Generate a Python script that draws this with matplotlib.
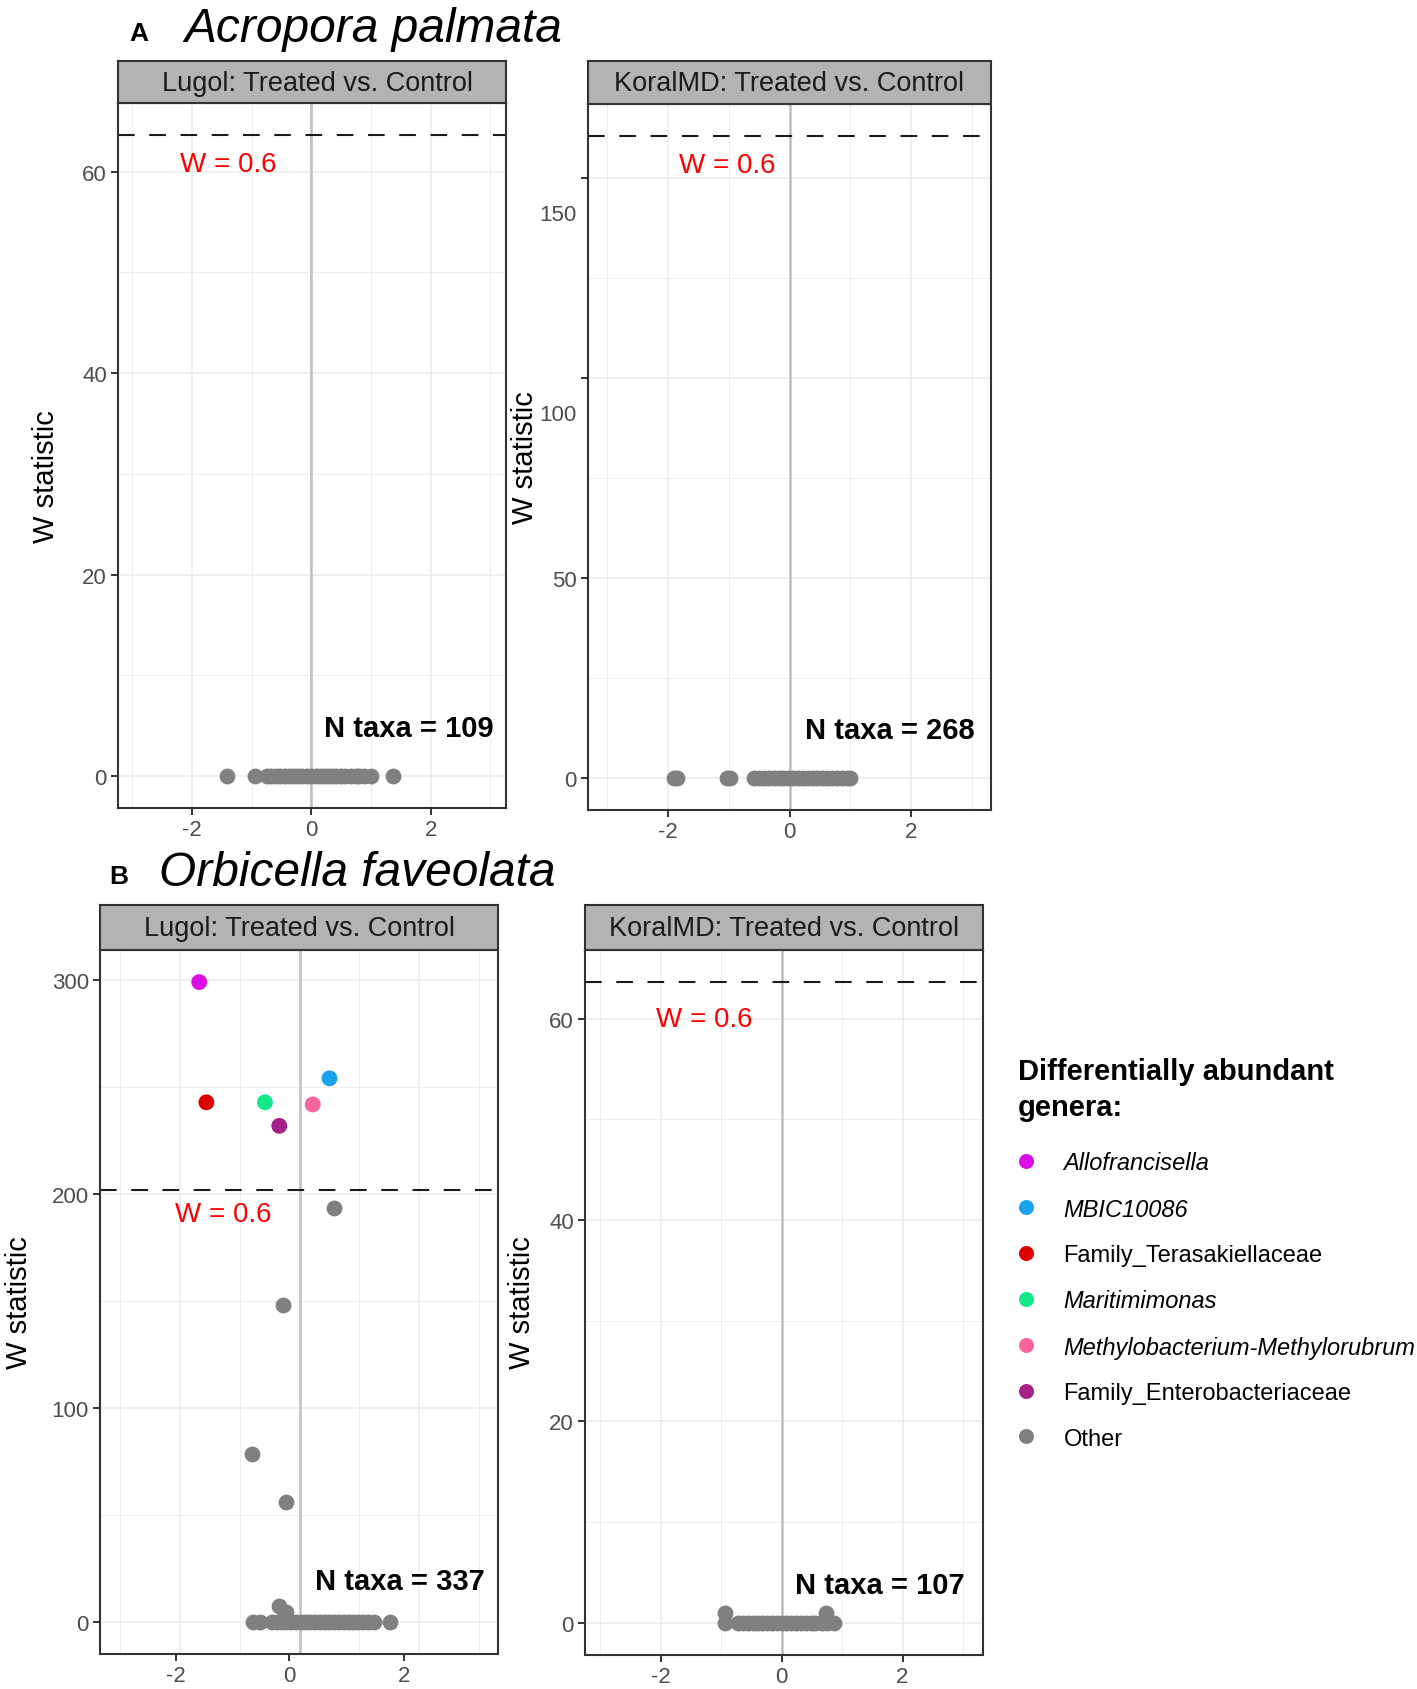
import matplotlib.pyplot as plt
import numpy as np
from matplotlib.lines import Line2D

plt.rcParams['font.family'] = ['Liberation Sans', 'DejaVu Sans']

W_PX, H_PX, DPI = 1417, 1690, 100

# legend categories
genera = ['Allofrancisella', 'MBIC10086', 'Family_Terasakiellaceae', 'Maritimimonas',
          'Methylobacterium-Methylorubrum', 'Family_Enterobacteriaceae', 'Other']
genus_colors = ['#DD0EE5', '#1AA2EE', '#DC0000', '#14E88B', '#F8659A', '#A61F8A', '#808080']
genus_italic = [True, True, False, True, True, False, False]

# A. palmata, Lugol (W = 0 for all taxa)
apal_lugol_x0 = [-1.41, -0.95, -0.74, -0.68, -0.6, -0.52, -0.45, -0.38, -0.3, -0.22, -0.15,
                 -0.08, 0.0, 0.07, 0.14, 0.21, 0.28, 0.35, 0.42, 0.5, 0.57, 0.66, 0.75,
                 0.8, 0.88, 1.0, 1.37]
# A. palmata, KoralMD
apal_koral_x0 = [-1.9, -1.86, -1.03, -0.98, -0.58, -0.5, -0.42, -0.34, -0.26, -0.18, -0.1,
                 -0.02, 0.06, 0.14, 0.22, 0.3, 0.38, 0.46, 0.54, 0.62, 0.7, 0.78, 0.86,
                 0.94, 1.0]
# O. faveolata, Lugol
ofav_lugol_x0 = [-0.78, -0.66, -0.46, -0.38, -0.3, -0.22, -0.14, -0.06, 0.02, 0.1, 0.18,
                 0.26, 0.34, 0.42, 0.5, 0.58, 0.66, 0.74, 0.82, 0.9, 0.98, 1.06, 1.14,
                 1.24, 1.52]
ofav_lugol_other_x = [-0.34, -0.22, -0.27, -0.23, -0.80, -0.28, 0.57]
ofav_lugol_other_w = [7.5, 4.5, 1.5, 55.9, 78.6, 148, 193.4]
ofav_lugol_da_x = [-1.68, 0.50, -1.56, -0.58, 0.22, -0.34]
ofav_lugol_da_w = [299.1, 254.1, 242.9, 242.9, 241.9, 231.9]
# O. faveolata, KoralMD
ofav_koral_x0 = [-0.93, -0.72, -0.64, -0.56, -0.48, -0.4, -0.32, -0.24, -0.16, -0.08, 0.0,
                 0.08, 0.16, 0.24, 0.32, 0.4, 0.48, 0.56, 0.67, 0.75, 0.86]
ofav_koral_other_x = [-0.93, 0.74]
ofav_koral_other_w = [1.0, 1.0]

n_taxa = [109, 268, 337, 107]
w_cut = [63.65, 160.4, 202, 63.6]
strip_titles = ['Lugol: Treated vs. Control', 'KoralMD: Treated vs. Control',
                'Lugol: Treated vs. Control', 'KoralMD: Treated vs. Control']


def box(x0, y0, x1, y1):
    return [x0 / W_PX, 1 - y1 / H_PX, (x1 - x0) / W_PX, (y1 - y0) / H_PX]


fig = plt.figure(figsize=(W_PX / DPI, H_PX / DPI), dpi=DPI)

panels = [
    dict(ax=(118, 104, 506, 809), strip=62, xlim=(-3.24, 3.26), ylim=(-3.18, 66.83),
         yt=[0, 20, 40, 60], ym=[10, 30, 50], xt=[-2, 0, 2], wpos=(0.159, 0.914),
         npos=(0.967, 0.1135), lab=(46.5, 477), sx=0.515),
    dict(ax=(588, 105, 991, 811), strip=62, xlim=(-3.32, 3.32), ylim=(-8.02, 168.4),
         yt=[0, 50, 100, 150], ym=[25, 75, 125], xt=[-2, 0, 2], wpos=(0.226, 0.913),
         npos=(0.960, 0.113), lab=(524.6, 458), sx=0.5),
    dict(ax=(100, 951, 498, 1655), strip=906, xlim=(-3.34, 3.32), ylim=(-15, 314.1),
         yt=[0, 100, 200, 300], ym=[50, 150, 250], xt=[-2.07, -0.17, 1.74], wpos=(0.1875, 0.625),
         npos=(0.967, 0.103), lab=(19.5, 1303), sx=0.5),
    dict(ax=(585, 951, 983, 1656), strip=906, xlim=(-3.25, 3.33), ylim=(-3.18, 66.8),
         yt=[0, 20, 40, 60], ym=[10, 30, 50], xt=[-2, 0, 2], wpos=(0.179, 0.902),
         npos=(0.954, 0.0997), lab=(522.5, 1303), sx=0.5),
]

axes = []
for i, p in enumerate(panels):
    x0, y0, x1, y1 = p['ax']
    ax = fig.add_axes(box(x0, y0, x1, y1))
    ax.set_xlim(p['xlim'])
    ax.set_ylim(p['ylim'])
    for gx in [-2, 0, 2]:
        ax.axvline(gx, color='#EBEBEB', lw=1.1, zorder=0)
    for gx in [-3, -1, 1, 3]:
        ax.axvline(gx, color='#EBEBEB', lw=0.6, zorder=0)
    for gy in p['yt']:
        ax.axhline(gy, color='#EBEBEB', lw=1.1, zorder=0)
    for gy in p['ym']:
        ax.axhline(gy, color='#EBEBEB', lw=0.6, zorder=0)
    ax.axvline(0, color='#BEBEBE', lw=1.8, zorder=1)
    ax.axhline(w_cut[i], color='#1A1A1A', lw=1.5, ls=(0, (8, 7)), zorder=2)
    ax.set_xticks(p['xt'])
    ax.set_xticklabels(['-2', '0', '2'])
    ax.set_yticks(p['yt'])
    ax.tick_params(labelsize=16, labelcolor='#4D4D4D', color='#333333', length=5, width=1.4, pad=3)
    for s in ax.spines.values():
        s.set_color('#333333')
        s.set_linewidth(1.5)
    ax.text(p['wpos'][0], p['wpos'][1], 'W = 0.6', color='#FF0000', fontsize=20,
            transform=ax.transAxes, ha='left', va='center')
    ax.text(p['npos'][0], p['npos'][1], f'N taxa = {n_taxa[i]}', fontsize=21, weight='bold',
            transform=ax.transAxes, ha='right', va='center')
    fig.text(p['lab'][0] / W_PX, 1 - p['lab'][1] / H_PX, 'W statistic', rotation=90,
             fontsize=21, ha='center', va='center')
    sax = fig.add_axes(box(x0, p['strip'], x1, y0))
    sax.set_facecolor('#B3B3B3')
    sax.set_xticks([])
    sax.set_yticks([])
    for s in sax.spines.values():
        s.set_color('#333333')
        s.set_linewidth(1.5)
    sax.text(p['sx'], 0.48, strip_titles[i], transform=sax.transAxes, ha='center', va='center',
             fontsize=19.5, color='#1A1A1A')
    axes.append(ax)

pt = dict(s=130, linewidths=0, zorder=3)
gray = genus_colors[-1]
axes[0].scatter(apal_lugol_x0, np.zeros(len(apal_lugol_x0)), color=gray, **pt)
axes[1].scatter(apal_koral_x0, np.zeros(len(apal_koral_x0)), color=gray, **pt)
axes[2].scatter(ofav_lugol_x0, np.zeros(len(ofav_lugol_x0)), color=gray, **pt)
axes[2].scatter(ofav_lugol_other_x, ofav_lugol_other_w, color=gray, **pt)
axes[2].scatter(ofav_lugol_da_x, ofav_lugol_da_w, color=genus_colors[:6], **pt)
axes[3].scatter(ofav_koral_x0, np.zeros(len(ofav_koral_x0)), color=gray, **pt)
axes[3].scatter(ofav_koral_other_x, ofav_koral_other_w, color=gray, **pt)

# in the original the 100 / 150 labels sit lower than their ticks
yt_r = panels[1]['yt']
axes[1].set_yticklabels([str(v) if v < 100 else '' for v in yt_r])
for v in yt_r:
    if v >= 100:
        axes[1].annotate(str(v), xy=(0, v), xycoords=('axes fraction', 'data'),
                         xytext=(-8, -26.5), textcoords='offset points', ha='right',
                         va='center', fontsize=16, color='#4D4D4D')

fig.text(129 / W_PX, 1 - 41 / H_PX, 'A', fontsize=19, weight='bold', va='baseline')
fig.text(184 / W_PX, 1 - 42 / H_PX, 'Acropora palmata', fontsize=34.5, style='italic', va='baseline')
fig.text(109 / W_PX, 1 - 884 / H_PX, 'B', fontsize=19, weight='bold', va='baseline')
fig.text(159 / W_PX, 1 - 886 / H_PX, 'Orbicella faveolata', fontsize=34.5, style='italic', va='baseline')

handles = [Line2D([], [], ls='none', marker='o', markersize=10.8, markeredgewidth=0,
                  color=c) for c in genus_colors]
leg = fig.legend(handles, genera, loc='upper left', bbox_to_anchor=(1018 / W_PX, 1 - 1058 / H_PX),
                 frameon=False, fontsize=17, labelspacing=0.99, handlelength=0.64,
                 handletextpad=1.29, borderpad=0, borderaxespad=0,
                 title='Differentially abundant\ngenera:', alignment='left',
                 title_fontproperties={'weight': 'bold', 'size': 21})
leg.get_title().set_linespacing(1.35)
for t, it in zip(leg.get_texts(), genus_italic):
    if it:
        t.set_fontstyle('italic')
leg._legend_box.sep = 22

fig.savefig('out.png', dpi=DPI)
